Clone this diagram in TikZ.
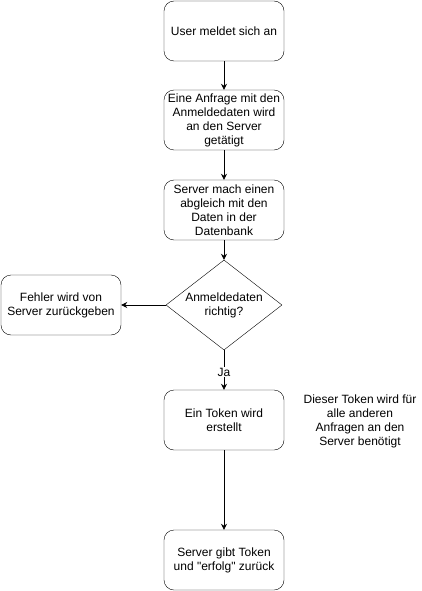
\documentclass[tikz,border=0pt]{standalone}
\usepackage{fontspec}
\setmainfont{Liberation Sans}[Ligatures=TeXOff]
\usetikzlibrary{shapes.geometric,arrows.meta}

\tikzset{
  stepbox/.style={draw,rounded corners=10pt,minimum width=120pt,minimum height=60pt,align=center,inner sep=2pt},
  check/.style={draw,diamond,aspect=1.27,minimum width=116pt,minimum height=90pt,inner sep=0pt,align=center},
  flow/.style={-{Stealth[length=6pt,width=6pt]},line width=0.8pt}
}

\begin{document}
\begin{tikzpicture}[x=1pt,y=-1pt,font=\fontsize{12pt}{14pt}\selectfont]
\useasboundingbox (0,0) rectangle (421,591);
%\draw[step=10,gray,very thin] (0,0) grid (421,591); %background grid

\node[stepbox] (login) at (224,31) {User meldet sich an};
\node[stepbox] (request) at (224,120) {Eine Anfrage mit den\\Anmeldedaten wird\\an den Server\\getätigt};
\node[stepbox] (compare) at (224,210) {Server mach einen\\abgleich mit den\\Daten in der\\Datenbank};
\node[check] (valid) at (224,305) {Anmeldedaten\\richtig?};
\node[stepbox] (error) at (61,305) {Fehler wird von\\Server zurückgeben};
\node[stepbox] (token) at (224,420) {Ein Token wird\\erstellt};
\node[stepbox] (reply) at (224,560) {Server gibt Token\\und "erfolg" zurück};

\node[align=center] (note) at (360,421) {Dieser Token wird für\\alle anderen\\Anfragen an den\\Server benötigt};

\draw[flow] (login) -- (request);
\draw[flow] (request) -- (compare);
\draw[flow] (compare) -- (valid);
\draw[flow] (valid) -- (error);
\draw[flow] (valid) -- node[fill=white,inner sep=1pt,pos=0.55] (yes) {Ja} (token);
\draw[flow] (token) -- (reply);
\end{tikzpicture}
\end{document}
